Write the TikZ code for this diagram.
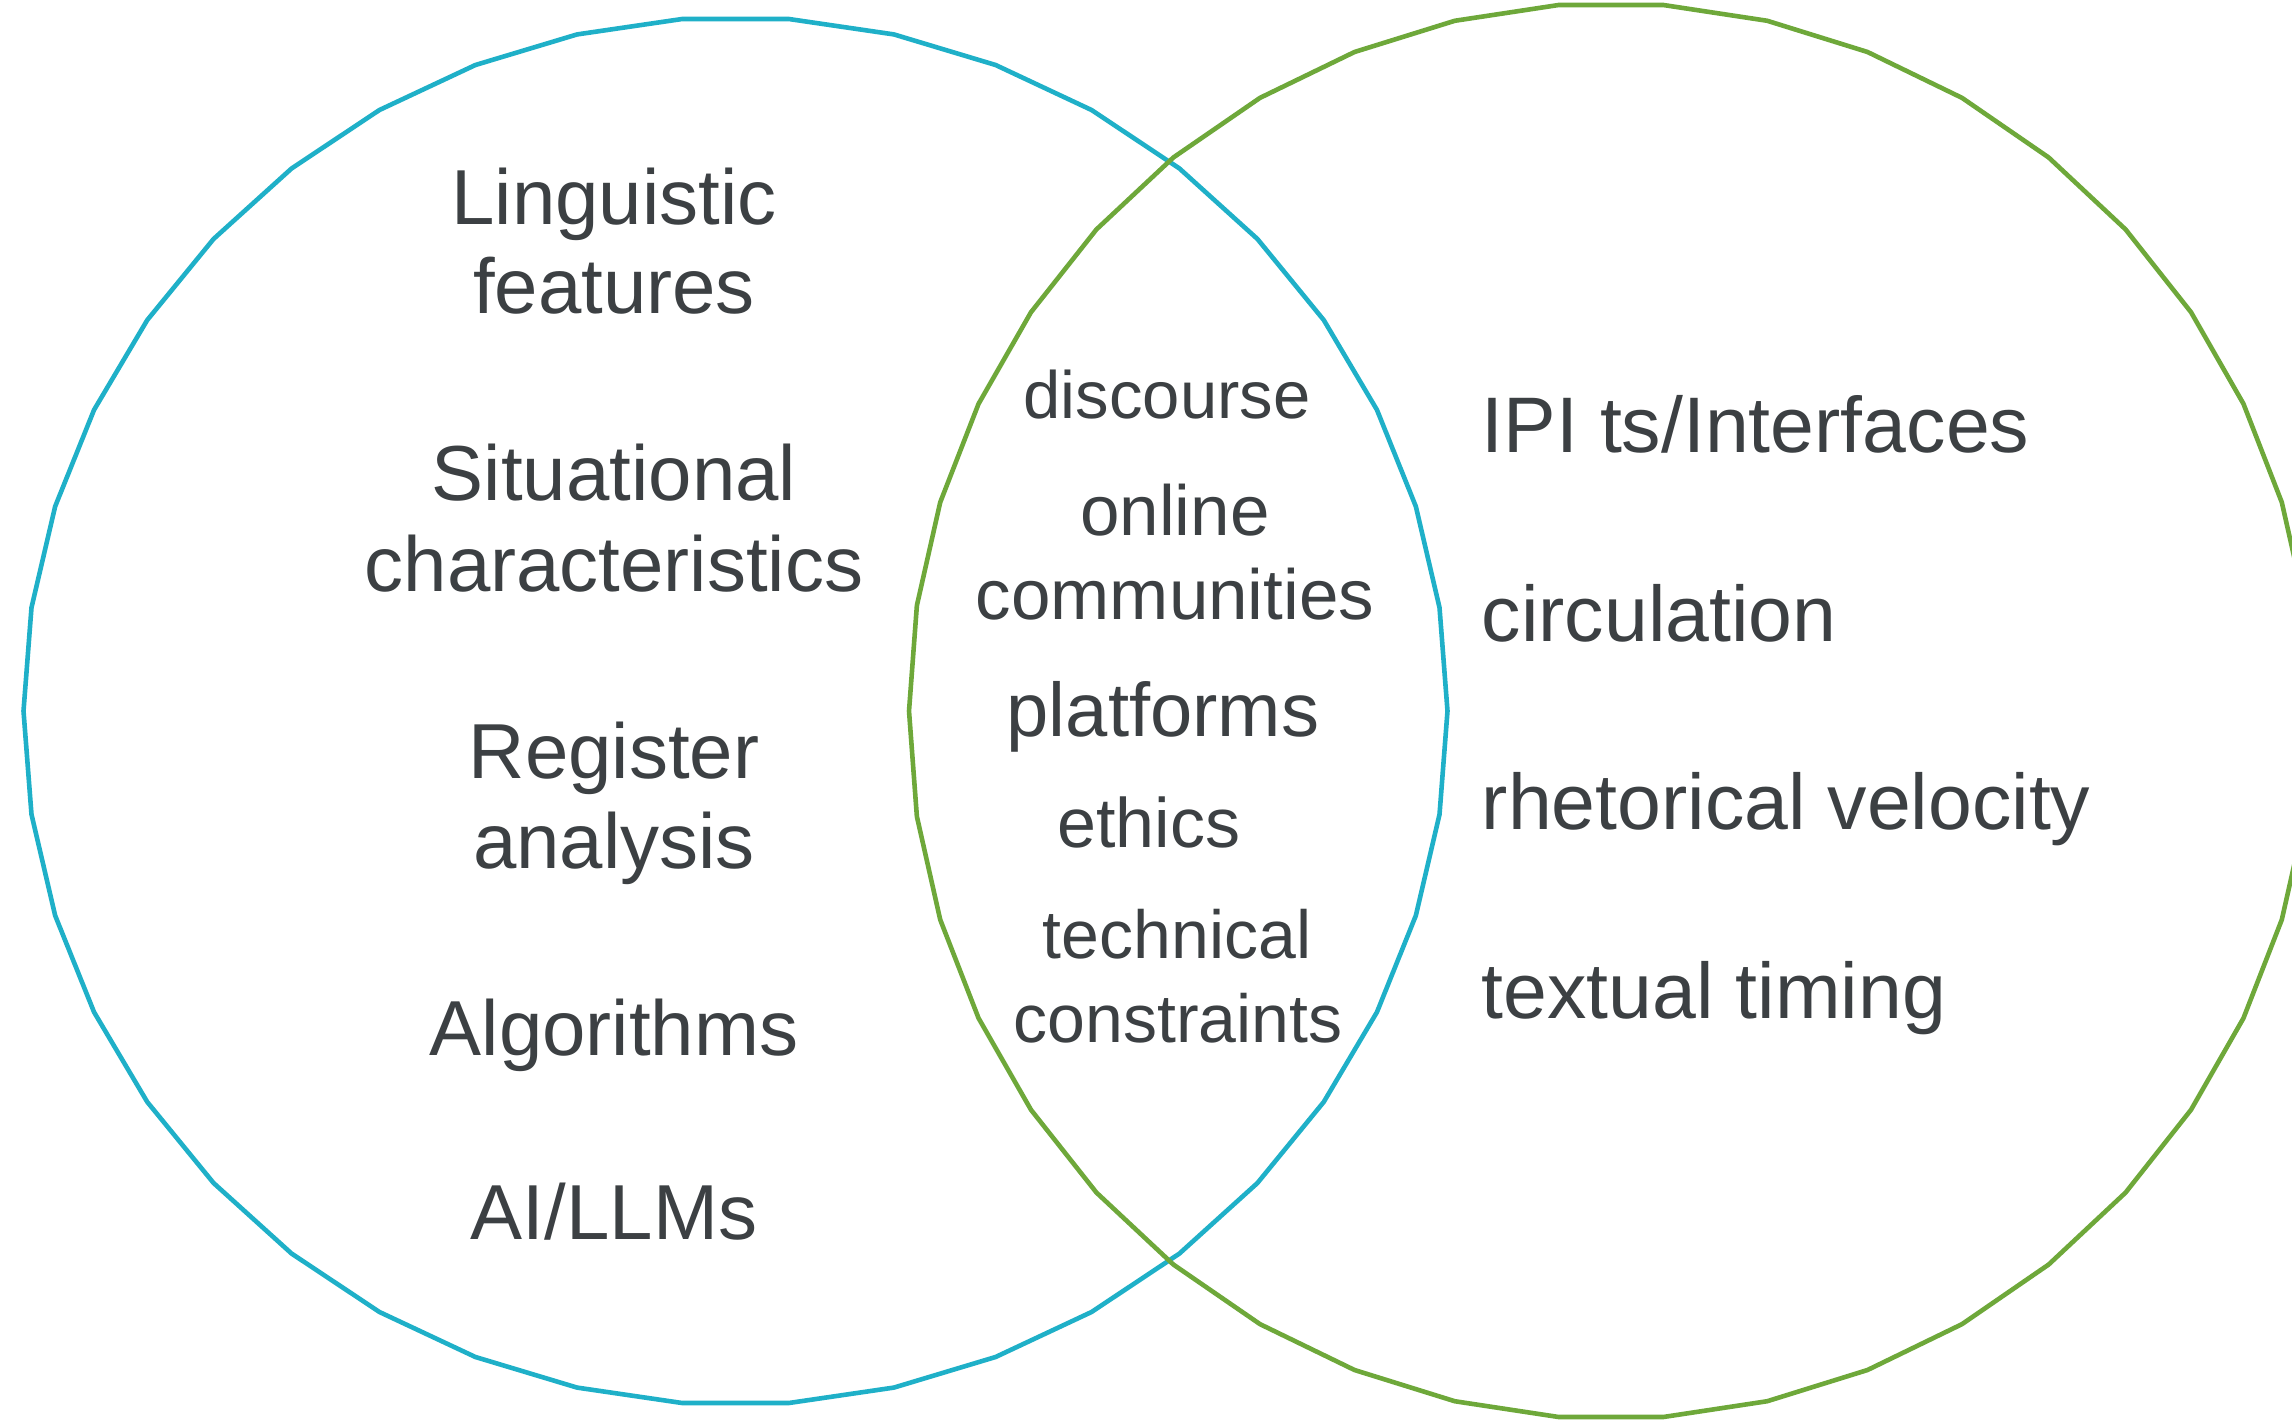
\documentclass[tikz,border=0pt]{standalone}
\usepackage{fontspec}
\setmainfont{Liberation Sans}
\definecolor{vblue}{HTML}{1FB0C8}
\definecolor{vgreen}{HTML}{6EA83A}
\definecolor{vtext}{HTML}{3C4043}
\begin{document}
\begin{tikzpicture}[x=0.25pt,y=-0.25pt,
  ring/.style={line width=1.15pt, line join=round},
  lbl/.style={inner sep=0pt, text=vtext, anchor=base},
  rlbl/.style={inner sep=0pt, text=vtext, anchor=base west},
  fs/.style={font=\fontsize{#1}{#1}\selectfont}]
\useasboundingbox (0,0) rectangle (2292,1424);
\clip (0,0) rectangle (2292,1424);
\fill[white] (0,0) rectangle (2292,1424);
% circles (42-sided polygons)
\draw[ring, vblue] plot[samples=43, domain=0:360] ({735.5+712*cos(\x)},{711+694*sin(\x)}) -- cycle;
\draw[ring, vgreen] plot[samples=43, domain=0:360] ({1611+702*cos(\x)},{711+708*sin(\x)}) -- cycle;
% left set
\node[lbl, fs=19.5] (l1a) at (614,224) {Linguistic};
\node[lbl, fs=19.5] (l1b) at (614,313) {features};
\node[lbl, fs=19.5] (l2a) at (614,500) {Situational};
\node[lbl, fs=19.5] (l2b) at (614,591) {characteristics};
\node[lbl, fs=19.5] (l3a) at (614,778) {Register};
\node[lbl, fs=19.5] (l3b) at (614,868) {analysis};
\node[lbl, fs=19.5] (l4) at (614,1055) {Algorithms};
\node[lbl, fs=19.5] (l5) at (614,1239) {AI/LLMs};
% overlap
\node[lbl, fs=16.75] (m1) at (1167,418) {discourse};
\node[lbl, fs=17.75] (m2a) at (1175,535) {online};
\node[lbl, fs=17.75] (m2b) at (1175,619) {communities};
\node[lbl, fs=19] (m3) at (1163,736) {platforms};
\node[lbl, fs=17.5] (m4) at (1149,847) {ethics};
\node[lbl, fs=17] (m5a) at (1177,958) {technical};
\node[lbl, fs=17] (m5b) at (1178,1042) {constraints};
% right set
\node[rlbl, fs=19.7] (r1) at (1481,452) {IPI ts/Interfaces};
\node[rlbl, fs=19.7] (r2) at (1481,641) {circulation};
\node[rlbl, fs=19.7] (r3) at (1481,829) {rhetorical velocity};
\node[rlbl, fs=19.7] (r4) at (1481,1018) {textual timing};
\end{tikzpicture}
\end{document}
